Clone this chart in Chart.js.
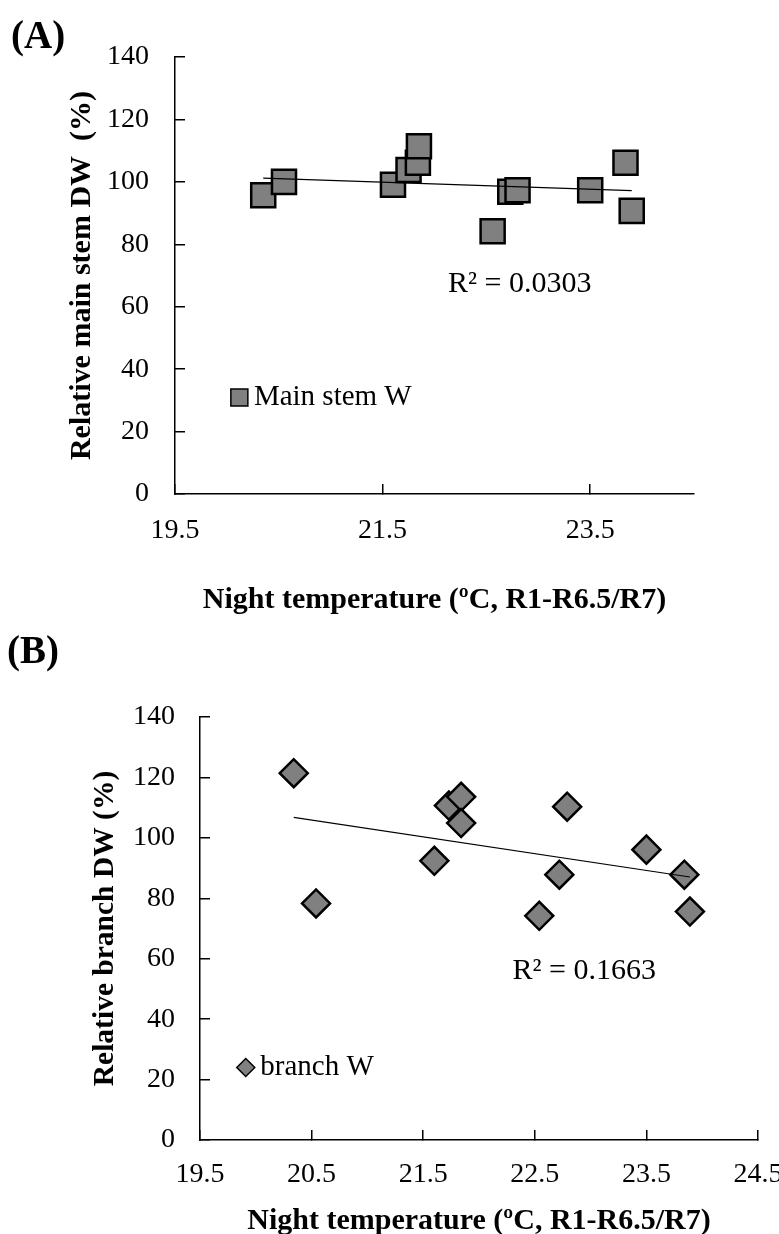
<!DOCTYPE html>
<html>
<head>
<meta charset="utf-8">
<script src="https://cdn.jsdelivr.net/npm/chart.js@4.4.1/dist/chart.umd.min.js"></script>
<style>
  body { margin: 0; background: #fff; width: 779px; height: 1234px; position: relative; overflow: hidden; }
  canvas { position: absolute; left: 0; }
  .tag { position: absolute; z-index: 2; font: bold 39px "Liberation Serif", serif; line-height: 44px; color: #000; }
</style>
</head>
<body>
<canvas id="chartA" width="779" height="620" style="top:0"></canvas>
<canvas id="chartB" width="779" height="614" style="top:620px"></canvas>
<div class="tag" style="left:11px; top:13px">(A)</div>
<div class="tag" style="left:7px; top:628px">(B)</div>
<script>
// panel A: main stem
const tempA = [20.35, 20.55, 21.6, 21.75, 21.84, 21.85, 22.56, 22.73, 22.8, 23.5, 23.84, 23.9];
const stemDW = [95.7, 100, 99.1, 103.8, 106.1, 111.4, 84.2, 96.8, 97.3, 97.3, 106.1, 90.7];
// panel B: branch
const tempB = [20.34, 20.54, 21.6, 21.73, 21.84, 21.84, 22.54, 22.72, 22.79, 23.5, 23.84, 23.89];
const branchDW = [121.4, 78.3, 92.4, 110.7, 113.6, 104.9, 74.2, 87.8, 110.3, 96.1, 87.8, 75.6];

const xTicksA = [19.5, 21.5, 23.5];
const xTicksB = [19.5, 20.5, 21.5, 22.5, 23.5, 24.5];
const yTicks = [0, 20, 40, 60, 80, 100, 120, 140];

const serif = '"Liberation Serif", "Times New Roman", serif';
const GRAY = '#808080';

// least squares line between the smallest and largest x
function fitLine(xs, ys) {
  const n = xs.length;
  const mx = xs.reduce((a, b) => a + b, 0) / n;
  const my = ys.reduce((a, b) => a + b, 0) / n;
  let sxy = 0, sxx = 0;
  for (let i = 0; i < n; i++) {
    sxy += (xs[i] - mx) * (ys[i] - my);
    sxx += (xs[i] - mx) * (xs[i] - mx);
  }
  const k = sxy / sxx, b = my - k * mx;
  const x0 = Math.min(...xs), x1 = Math.max(...xs);
  return [{x: x0, y: k * x0 + b}, {x: x1, y: k * x1 + b}];
}

// R² text and the little legend inside the plot
const notesPlugin = {
  id: 'notes',
  afterDatasetsDraw(chart, args, opts) {
    const {ctx, scales: {x, y}} = chart;
    ctx.save();
    ctx.fillStyle = '#000';
    ctx.textAlign = 'left';
    ctx.textBaseline = 'middle';
    ctx.font = '30px ' + serif;
    ctx.fillText(opts.r2.text, x.getPixelForValue(opts.r2.x), y.getPixelForValue(opts.r2.y));

    const lx = x.getPixelForValue(opts.legend.x);
    const ly = y.getPixelForValue(opts.legend.y);
    const r = opts.legend.size;
    ctx.beginPath();
    if (opts.legend.style === 'rect') {
      ctx.rect(lx - r, ly - r, 2 * r, 2 * r);
    } else {
      ctx.moveTo(lx - r, ly);
      ctx.lineTo(lx, ly - r);
      ctx.lineTo(lx + r, ly);
      ctx.lineTo(lx, ly + r);
      ctx.closePath();
    }
    ctx.fillStyle = GRAY;
    ctx.fill();
    ctx.lineWidth = 1.5;
    ctx.strokeStyle = '#000';
    ctx.stroke();
    ctx.fillStyle = '#000';
    ctx.font = '29px ' + serif;
    ctx.fillText(chart.data.datasets[1].label, x.getPixelForValue(opts.legend.textX), ly);
    ctx.restore();
  }
};

function makeChart(el, cfg) {
  return new Chart(el, {
    type: 'scatter',
    data: {
      datasets: [
        {
          label: 'trend',
          data: fitLine(cfg.xs, cfg.ys),
          showLine: true,
          borderColor: '#000',
          borderWidth: 1.2,
          pointRadius: 0,
          order: 0
        },
        {
          label: cfg.label,
          data: cfg.xs.map((v, i) => ({x: v, y: cfg.ys[i]})),
          pointStyle: cfg.style,
          pointRadius: cfg.radius,
          pointHoverRadius: cfg.radius,
          backgroundColor: GRAY,
          borderColor: '#000',
          borderWidth: 2.5,
          order: 1
        }
      ]
    },
    options: {
      responsive: false,
      animation: false,
      devicePixelRatio: 1,
      layout: { padding: cfg.pad },
      plugins: {
        legend: { display: false },
        tooltip: { enabled: false },
        notes: cfg.notes
      },
      scales: {
        x: {
          type: 'linear',
          min: 19.5,
          max: 24.5,
          afterBuildTicks: s => { s.ticks = cfg.xTicks.map(v => ({value: v})); },
          afterFit: s => { s.height = cfg.xH; s.paddingLeft = 0; s.paddingRight = 0; },
          grid: { drawOnChartArea: false, tickLength: -10, color: '#000', lineWidth: 1.5 },
          border: { color: '#000', width: 1.5 },
          ticks: {
            color: '#000', font: { family: serif, size: 28 }, padding: cfg.xPad,
            maxRotation: 0, autoSkip: false, callback: v => v.toFixed(1)
          },
          title: {
            display: true, text: 'Night temperature (ºC, R1-R6.5/R7)', color: '#000',
            font: { family: serif, size: 30, weight: 'bold' }, padding: { top: 0, bottom: cfg.xTitlePad }
          }
        },
        y: {
          min: 0,
          max: 140,
          afterBuildTicks: s => { s.ticks = yTicks.map(v => ({value: v})); },
          afterFit: s => { s.width = cfg.yW; s.paddingTop = 0; s.paddingBottom = 0; },
          grid: { drawOnChartArea: false, tickLength: -10, color: '#000', lineWidth: 1.5 },
          border: { color: '#000', width: 1.5 },
          ticks: { color: '#000', font: { family: serif, size: 28 }, padding: cfg.yPad },
          title: {
            display: true, text: cfg.yTitle, color: '#000',
            font: { family: serif, size: cfg.yTitleSize, weight: 'bold' }, padding: { top: cfg.yTitlePad, bottom: 0 }
          }
        }
      }
    },
    plugins: [notesPlugin]
  });
}

makeChart(document.getElementById('chartA'), {
  xs: tempA, ys: stemDW, label: 'Main stem W', style: 'rect', radius: 17,
  xTicks: xTicksA, yTitle: 'Relative main stem DW  (%)', yTitleSize: 30,
  pad: { top: 57, right: 85, left: 0, bottom: 0 },
  xH: 126, yW: 175, xPad: 30, yPad: 36, xTitlePad: 2, yTitlePad: 64,
  notes: {
    r2: { text: 'R² = 0.0303', x: 22.13, y: 67.1 },
    legend: { style: 'rect', size: 8.5, x: 20.12, y: 30.9, textX: 20.26 }
  }
});

makeChart(document.getElementById('chartB'), {
  xs: tempB, ys: branchDW, label: 'branch W', style: 'rectRot', radius: 14,
  xTicks: xTicksB, yTitle: 'Relative branch DW (%)', yTitleSize: 29.5,
  pad: { top: 97, right: 21, left: 0, bottom: 0 },
  xH: 94, yW: 200, xPad: 28, yPad: 35, xTitlePad: -5, yTitlePad: 88,
  notes: {
    r2: { text: 'R² = 0.1663', x: 22.3, y: 56 },
    legend: { style: 'rectRot', size: 9, x: 19.91, y: 24, textX: 20.04 }
  }
});
</script>
</body>
</html>
